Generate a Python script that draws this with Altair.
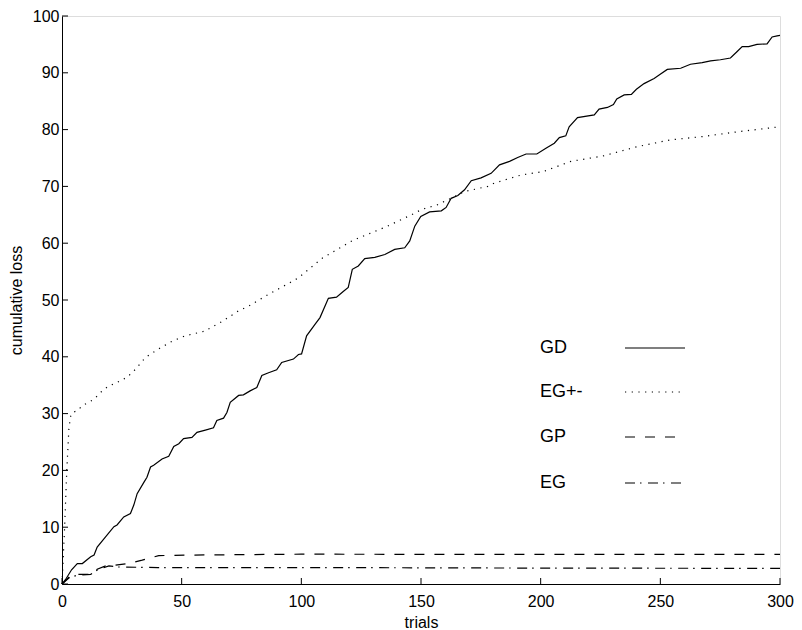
import altair as alt
import pandas as pd

# ---------------- data ----------------
gd_x = [0, 1.5, 4, 6.4, 8.5, 12, 13.4, 14.7, 18.2, 21.7, 23, 25.8, 28.6, 30, 31.4, 34.2, 35.5, 37, 38.3,
        41.8, 44.6, 46.7, 48.8, 50.8, 54.3, 56.4, 59.9, 63.3, 64.7, 67.5, 68.9, 70.3, 73.8, 75.8, 78.6,
        81.4, 83.5, 86.3, 89.7, 91.8, 96.7, 98.8, 100.1, 102.2, 105.7, 107.8, 111.3, 114.7, 117.5, 119.6,
        121.3, 123.8, 126.5, 130.7, 134.9, 139, 143.2, 145.3, 147.4, 149.9, 153.6, 158.5, 160.5, 162.6,
        165.4, 168.2, 171, 175.1, 179.3, 182.8, 187, 190.4, 193.9, 198.4, 202.2, 205.7, 207.8, 210.5,
        211.9, 215.4, 222.4, 224.4, 227.9, 230.4, 231.8, 234.9, 237.9, 240, 243.2, 247.4, 249.5, 252.9,
        258.5, 262.6, 267.5, 271, 275.1, 279.3, 282, 284.2, 286.9, 290.4, 294.6, 296.7, 298.8, 300]
gd_y = [0, 0.8, 2.5, 3.6, 3.6, 4.8, 5.1, 6.5, 8.3, 10.1, 10.4, 11.8, 12.4, 13.9, 15.9, 17.9, 18.8, 20.6, 20.9,
        22, 22.5, 24.2, 24.7, 25.6, 25.8, 26.7, 27.1, 27.5, 28.8, 29.2, 30.2, 32, 33.2, 33.3, 34,
        34.6, 36.7, 37.2, 37.7, 39, 39.6, 40.4, 40.5, 43.7, 45.7, 46.9, 50.3, 50.5, 51.5, 52.2,
        55.4, 56, 57.3, 57.5, 58, 58.9, 59.2, 60.4, 63, 64.7, 65.5, 65.7, 66.3, 67.9,
        68.4, 69.4, 71, 71.5, 72.3, 73.8, 74.4, 75.1, 75.7, 75.7, 76.7, 77.6, 78.6, 78.9,
        80.5, 82.1, 82.6, 83.6, 83.9, 84.4, 85.4, 86.1, 86.2, 87.1, 88.1, 89, 89.6, 90.6,
        90.8, 91.5, 91.8, 92.1, 92.3, 92.6, 93.7, 94.6, 94.6, 95, 95.1, 96.3, 96.5, 96.6]

egpm_x = [0, 1, 2, 2.9, 3.6, 4.3, 6.4, 8.5, 13.3, 16.8, 19.6, 21.7, 27.2, 30.7, 34.9, 40.4, 46.3, 51.5,
          59.5, 66.8, 73.8, 77.9, 86.3, 94.6, 98.8, 108.5, 121.5, 135.5, 146, 150.1, 157, 164, 168.2,
          177.9, 180.7, 191.8, 201, 212.6, 226.5, 240.4, 254.3, 268.2, 282, 300]
egpm_y = [0, 9, 20, 27.5, 29.5, 30.2, 30.5, 31.4, 32.5, 34, 34.9, 35.2, 36.4, 37.8, 39.9, 41.4, 42.8, 43.7,
          44.5, 46.2, 48.1, 48.9, 51, 52.9, 53.9, 57.3, 60.5, 62.9, 65, 65.9, 66.8, 68.2, 69.1,
          70, 70.6, 72, 72.6, 74.4, 75.4, 77, 78.2, 78.8, 79.6, 80.5]

gp_x = [0, 3.6, 6, 12.6, 14.7, 18.2, 22, 27.8, 33.5, 40.4, 55, 100, 200, 300]
gp_y = [0, 1.5, 1.7, 1.7, 2.6, 3.2, 3.3, 3.6, 4.2, 5.0, 5.1, 5.25, 5.2, 5.2]

eg_x = [0, 3, 6, 12, 15, 19.6, 23, 40, 100, 200, 300]
eg_y = [0, 1.1, 1.5, 1.7, 2.5, 3.2, 3.0, 2.9, 2.9, 2.8, 2.75]

series_names = ["GD", "EG+-", "GP", "EG"]
x_ticks = [0, 50, 100, 150, 200, 250, 300]
y_ticks = [0, 10, 20, 30, 40, 50, 60, 70, 80, 90, 100]

# ---------------- build table ----------------
rows = []
for name, xs, ys in zip(series_names, [gd_x, egpm_x, gp_x, eg_x], [gd_y, egpm_y, gp_y, eg_y]):
    for a, b in zip(xs, ys):
        rows.append({"series": name, "trial": a, "loss": b})
df = pd.DataFrame(rows)

W, H = 718, 568
FONT = "Liberation Sans"
FS = 16

dashes = {"GD": None, "EG+-": [1.2, 5.5], "GP": [10, 10], "EG": [10, 5, 1.5, 6.5]}

x_enc = alt.X("trial:Q", scale=alt.Scale(domain=[0, 300], nice=False, zero=False),
              axis=alt.Axis(values=x_ticks, ticks=False, grid=False, domainColor="black",
                            labelFont=FONT, labelFontSize=FS, labelColor="black", labelPadding=9,
                            labelFlush=False, title="trials", titleFont=FONT, titleFontSize=FS,
                            titleFontWeight="normal", titleColor="black",
                            titleBaseline="alphabetic", titleY=43))
y_enc = alt.Y("loss:Q", scale=alt.Scale(domain=[0, 100], nice=False),
              axis=alt.Axis(values=y_ticks, ticks=False, grid=False, domainColor="black",
                            labelFont=FONT, labelFontSize=FS, labelColor="black", labelPadding=3,
                            labelFlush=False, title="cumulative loss", titleFont=FONT,
                            titleFontSize=FS, titleFontWeight="normal", titleColor="black",
                            titlePadding=8))

layers = []
for name in series_names:
    kw = dict(color="black", strokeWidth=1.2, interpolate="linear")
    if dashes[name] is not None:
        kw["strokeDash"] = dashes[name]
    layers.append(
        alt.Chart(df).transform_filter(alt.datum.series == name)
        .mark_line(**kw).encode(x=x_enc, y=y_enc)
    )

# inward tick marks
ytick_df = pd.DataFrame({"loss": y_ticks})
xtick_df = pd.DataFrame({"trial": x_ticks})
layers.append(alt.Chart(ytick_df).mark_rule(color="black", strokeWidth=1)
              .encode(y=y_enc, x=alt.value(0), x2=alt.value(6)))
layers.append(alt.Chart(xtick_df).mark_rule(color="black", strokeWidth=1)
              .encode(x=x_enc, y=alt.value(H), y2=alt.value(H - 6)))

# manual legend (label on the left, line sample on the right)
legend_rows_y = [332, 376, 421, 467]
for name, ly in zip(series_names, legend_rows_y):
    ldf = pd.DataFrame({"label": [name]})
    layers.append(alt.Chart(ldf).mark_text(align="left", baseline="middle", font=FONT,
                                           fontSize=FS + 2, color="black")
                  .encode(text="label:N", x=alt.value(478), y=alt.value(ly)))
    kw = dict(color="black", strokeWidth=1.2)
    if dashes[name] is not None:
        kw["strokeDash"] = dashes[name]
    layers.append(alt.Chart(ldf).mark_rule(**kw)
                  .encode(x=alt.value(563), x2=alt.value(623), y=alt.value(ly)))

chart = alt.layer(*layers).properties(
    width=W, height=H,
    autosize=alt.AutoSizeParams(type="none"),
    padding={"left": 54, "top": 8, "right": 14, "bottom": 46},
).configure_view(stroke=None).configure(background="white")

chart.save("out.html", embed_options={"renderer": "svg", "actions": False})
